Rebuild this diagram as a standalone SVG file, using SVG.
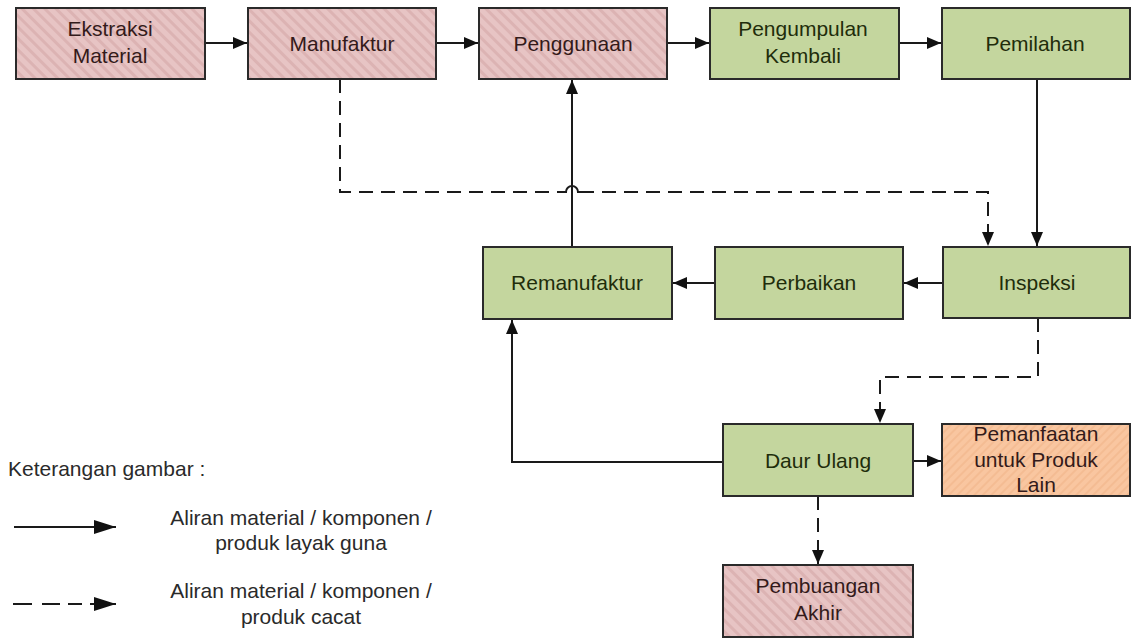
<svg xmlns="http://www.w3.org/2000/svg" width="1132" height="641" viewBox="0 0 1132 641">
<style>
.box{stroke:#2a2a2a;stroke-width:2}
.pink{fill:url(#hatchPink)}
.green{fill:#c4d69e}
.orange{fill:url(#hatchOrange)}
text{font-family:"Liberation Sans",Arial,sans-serif;font-size:21px;text-anchor:middle}
.tp{fill:#331a1a}
.tg{fill:#1f2d0b}
.tl{fill:#2a2a2a}
.c{fill:none;stroke:#1a1a1a;stroke-width:2}
.d{stroke-dasharray:14 8}
</style>
<defs>
<pattern id="hatchPink" patternUnits="userSpaceOnUse" width="8" height="8" patternTransform="rotate(-45)">
<rect width="8" height="8" fill="#e7c4c4"/>
<rect width="3" height="8" fill="#dcb3b3"/>
</pattern>
<pattern id="hatchOrange" patternUnits="userSpaceOnUse" width="6" height="6" patternTransform="rotate(45)">
<rect width="6" height="6" fill="#f9c6a0"/>
<rect width="2" height="6" fill="#f4bc93"/>
</pattern>
<marker id="arr" markerUnits="userSpaceOnUse" markerWidth="15" markerHeight="13" refX="14" refY="6" orient="auto">
<path d="M0,0 L14,6 L0,12 z" fill="#111"/>
</marker>
<marker id="arrL" markerUnits="userSpaceOnUse" markerWidth="23" markerHeight="15" refX="22" refY="7" orient="auto">
<path d="M0,0 L22,7 L0,14 z" fill="#111"/>
</marker>
</defs>

<g id="connectors">
<path class="c" d="M205,43 H247" marker-end="url(#arr)"/>
<path class="c" d="M436,43 H478" marker-end="url(#arr)"/>
<path class="c" d="M667,43 H709" marker-end="url(#arr)"/>
<path class="c" d="M899,43 H941" marker-end="url(#arr)"/>
<path class="c" d="M1037,79 V246" marker-end="url(#arr)"/>
<path class="c d" d="M340,79 V192 H566"/>
<path class="c" d="M565,192 H566 A6,6 0 0 1 578,192 H580"/>
<path class="c d" d="M580,192 H988 V246" marker-end="url(#arr)"/>
<path class="c" d="M943,283 H904" marker-end="url(#arr)"/>
<path class="c" d="M715,283 H673" marker-end="url(#arr)"/>
<path class="c" d="M572,247 V80" marker-end="url(#arr)"/>
<path class="c d" d="M1038,318 V377 H880 V423" marker-end="url(#arr)"/>
<path class="c" d="M723,462 H512 V320" marker-end="url(#arr)"/>
<path class="c" d="M913,461 H941" marker-end="url(#arr)"/>
<path class="c d" d="M818,496 V564" marker-end="url(#arr)"/>
</g>

<g id="ekstraksi-material">
<rect class="box pink" x="16" y="8" width="189" height="71"/>
<text class="tp" x="110" y="36">Ekstraksi</text>
<text class="tp" x="110" y="63">Material</text>
</g>
<g id="manufaktur">
<rect class="box pink" x="248" y="8" width="188" height="71"/>
<text class="tp" x="342" y="51">Manufaktur</text>
</g>
<g id="penggunaan">
<rect class="box pink" x="479" y="8" width="188" height="71"/>
<text class="tp" x="573" y="51">Penggunaan</text>
</g>
<g id="pengumpulan-kembali">
<rect class="box green" x="710" y="8" width="189" height="71"/>
<text class="tg" x="803" y="36">Pengumpulan</text>
<text class="tg" x="803" y="63">Kembali</text>
</g>
<g id="pemilahan">
<rect class="box green" x="942" y="8" width="188" height="71"/>
<text class="tg" x="1035" y="51">Pemilahan</text>
</g>
<g id="remanufaktur">
<rect class="box green" x="483" y="247" width="189" height="72"/>
<text class="tg" x="577" y="290">Remanufaktur</text>
</g>
<g id="perbaikan">
<rect class="box green" x="715" y="247" width="188" height="72"/>
<text class="tg" x="809" y="290">Perbaikan</text>
</g>
<g id="inspeksi">
<rect class="box green" x="943" y="247" width="187" height="71"/>
<text class="tg" x="1037" y="290">Inspeksi</text>
</g>
<g id="daur-ulang">
<rect class="box green" x="723" y="424" width="190" height="72"/>
<text class="tg" x="818" y="468">Daur Ulang</text>
</g>
<g id="pemanfaatan">
<rect class="box orange" x="942" y="424" width="188" height="72"/>
<text class="tp" x="1036" y="441">Pemanfaatan</text>
<text class="tp" x="1036" y="467">untuk Produk</text>
<text class="tp" x="1036" y="492">Lain</text>
</g>
<g id="pembuangan-akhir">
<rect class="box pink" x="723" y="565" width="190" height="72"/>
<text class="tp" x="818" y="593">Pembuangan</text>
<text class="tp" x="818" y="620">Akhir</text>
</g>

<g id="legend">
<text class="tl" x="8" y="476" style="text-anchor:start">Keterangan gambar :</text>
<path class="c" d="M14,527 H116" marker-end="url(#arrL)"/>
<path class="c" d="M13,604 H32 M42,604 H60 M68,604 H82 M90,604 H116" marker-end="url(#arrL)"/>
<text class="tl" x="301" y="525">Aliran material / komponen /</text>
<text class="tl" x="301" y="550">produk layak guna</text>
<text class="tl" x="301" y="598">Aliran material / komponen /</text>
<text class="tl" x="301" y="624">produk cacat</text>
</g>
</svg>
